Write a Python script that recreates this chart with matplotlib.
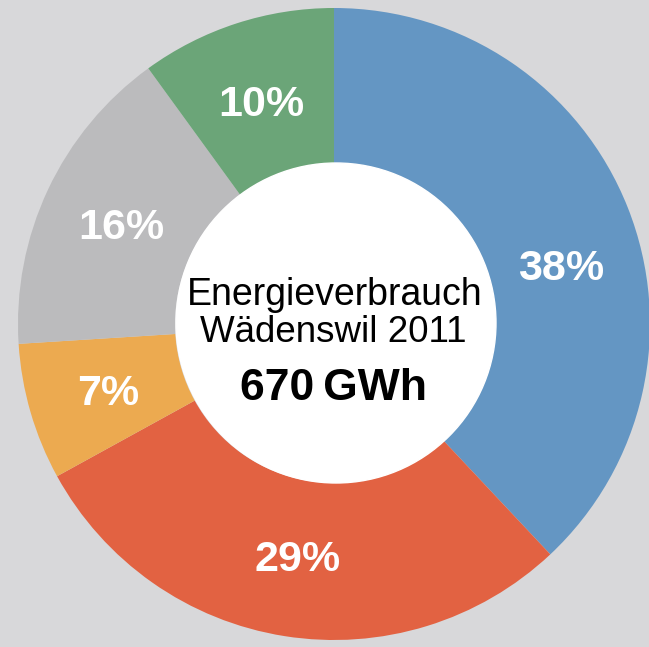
import numpy as np
import matplotlib
matplotlib.use("Agg")
import matplotlib.pyplot as plt

# Data
categories = ["Blau", "Rot", "Orange", "Grau", "Grün"]
shares = [38, 29, 7, 16, 10]
labels = ["38%", "29%", "7%", "16%", "10%"]
title_lines = ["Energieverbrauch", "Wädenswil 2011", "670\u2009GWh"]

colors = ["#6496C3", "#E26242", "#ECAA50", "#BBBBBD", "#6BA578"]
bg = "#D8D8DA"

W, H = 649, 647
fig = plt.figure(figsize=(W / 100, H / 100), dpi=100, facecolor=bg)
ax = fig.add_axes([0, 0, 1, 1])
ax.set_facecolor(bg)

cx, cy = 334, H - 324
R, r_in = 316, 159

wedges, _ = ax.pie(shares, colors=colors, startangle=90, counterclock=False,
                   center=(cx, cy), radius=R,
                   wedgeprops=dict(width=R - r_in, linewidth=0))
ax.add_patch(plt.Circle((cx + 2, cy + 1), r_in + 1, color="white", zorder=3))

ax.set_xlim(0, W)
ax.set_ylim(0, H)
ax.set_aspect("equal")
ax.axis("off")

# percentage labels at mid-angle of each wedge
angle_offsets = [7, 0, 0, 0, 0]
cum = np.cumsum([0] + shares)
total = sum(shares)
lab_r = 235
for i, lab in enumerate(labels):
    mid = (cum[i] + cum[i + 1]) / 2 / total * 360 + angle_offsets[i]
    th = np.deg2rad(mid)
    x = cx + lab_r * np.sin(th)
    y = cy + lab_r * np.cos(th)
    ax.text(x, y - 15, lab, color="white", fontsize=31, fontweight="bold",
            family="Liberation Sans", ha="center", va="baseline", zorder=5)

# centre text
ax.text(cx + 1, H - 305, title_lines[0], fontsize=27, family="Liberation Sans",
        ha="center", va="baseline", zorder=5)
ax.text(cx - 1, H - 342, title_lines[1], fontsize=26.5, family="Liberation Sans",
        ha="center", va="baseline", zorder=5)
ax.text(cx - 1, H - 400, title_lines[2], fontsize=32, fontweight="bold",
        family=["Liberation Sans", "DejaVu Sans"],
        ha="center", va="baseline", zorder=5)

fig.savefig("out.png", dpi=100, facecolor=bg)
